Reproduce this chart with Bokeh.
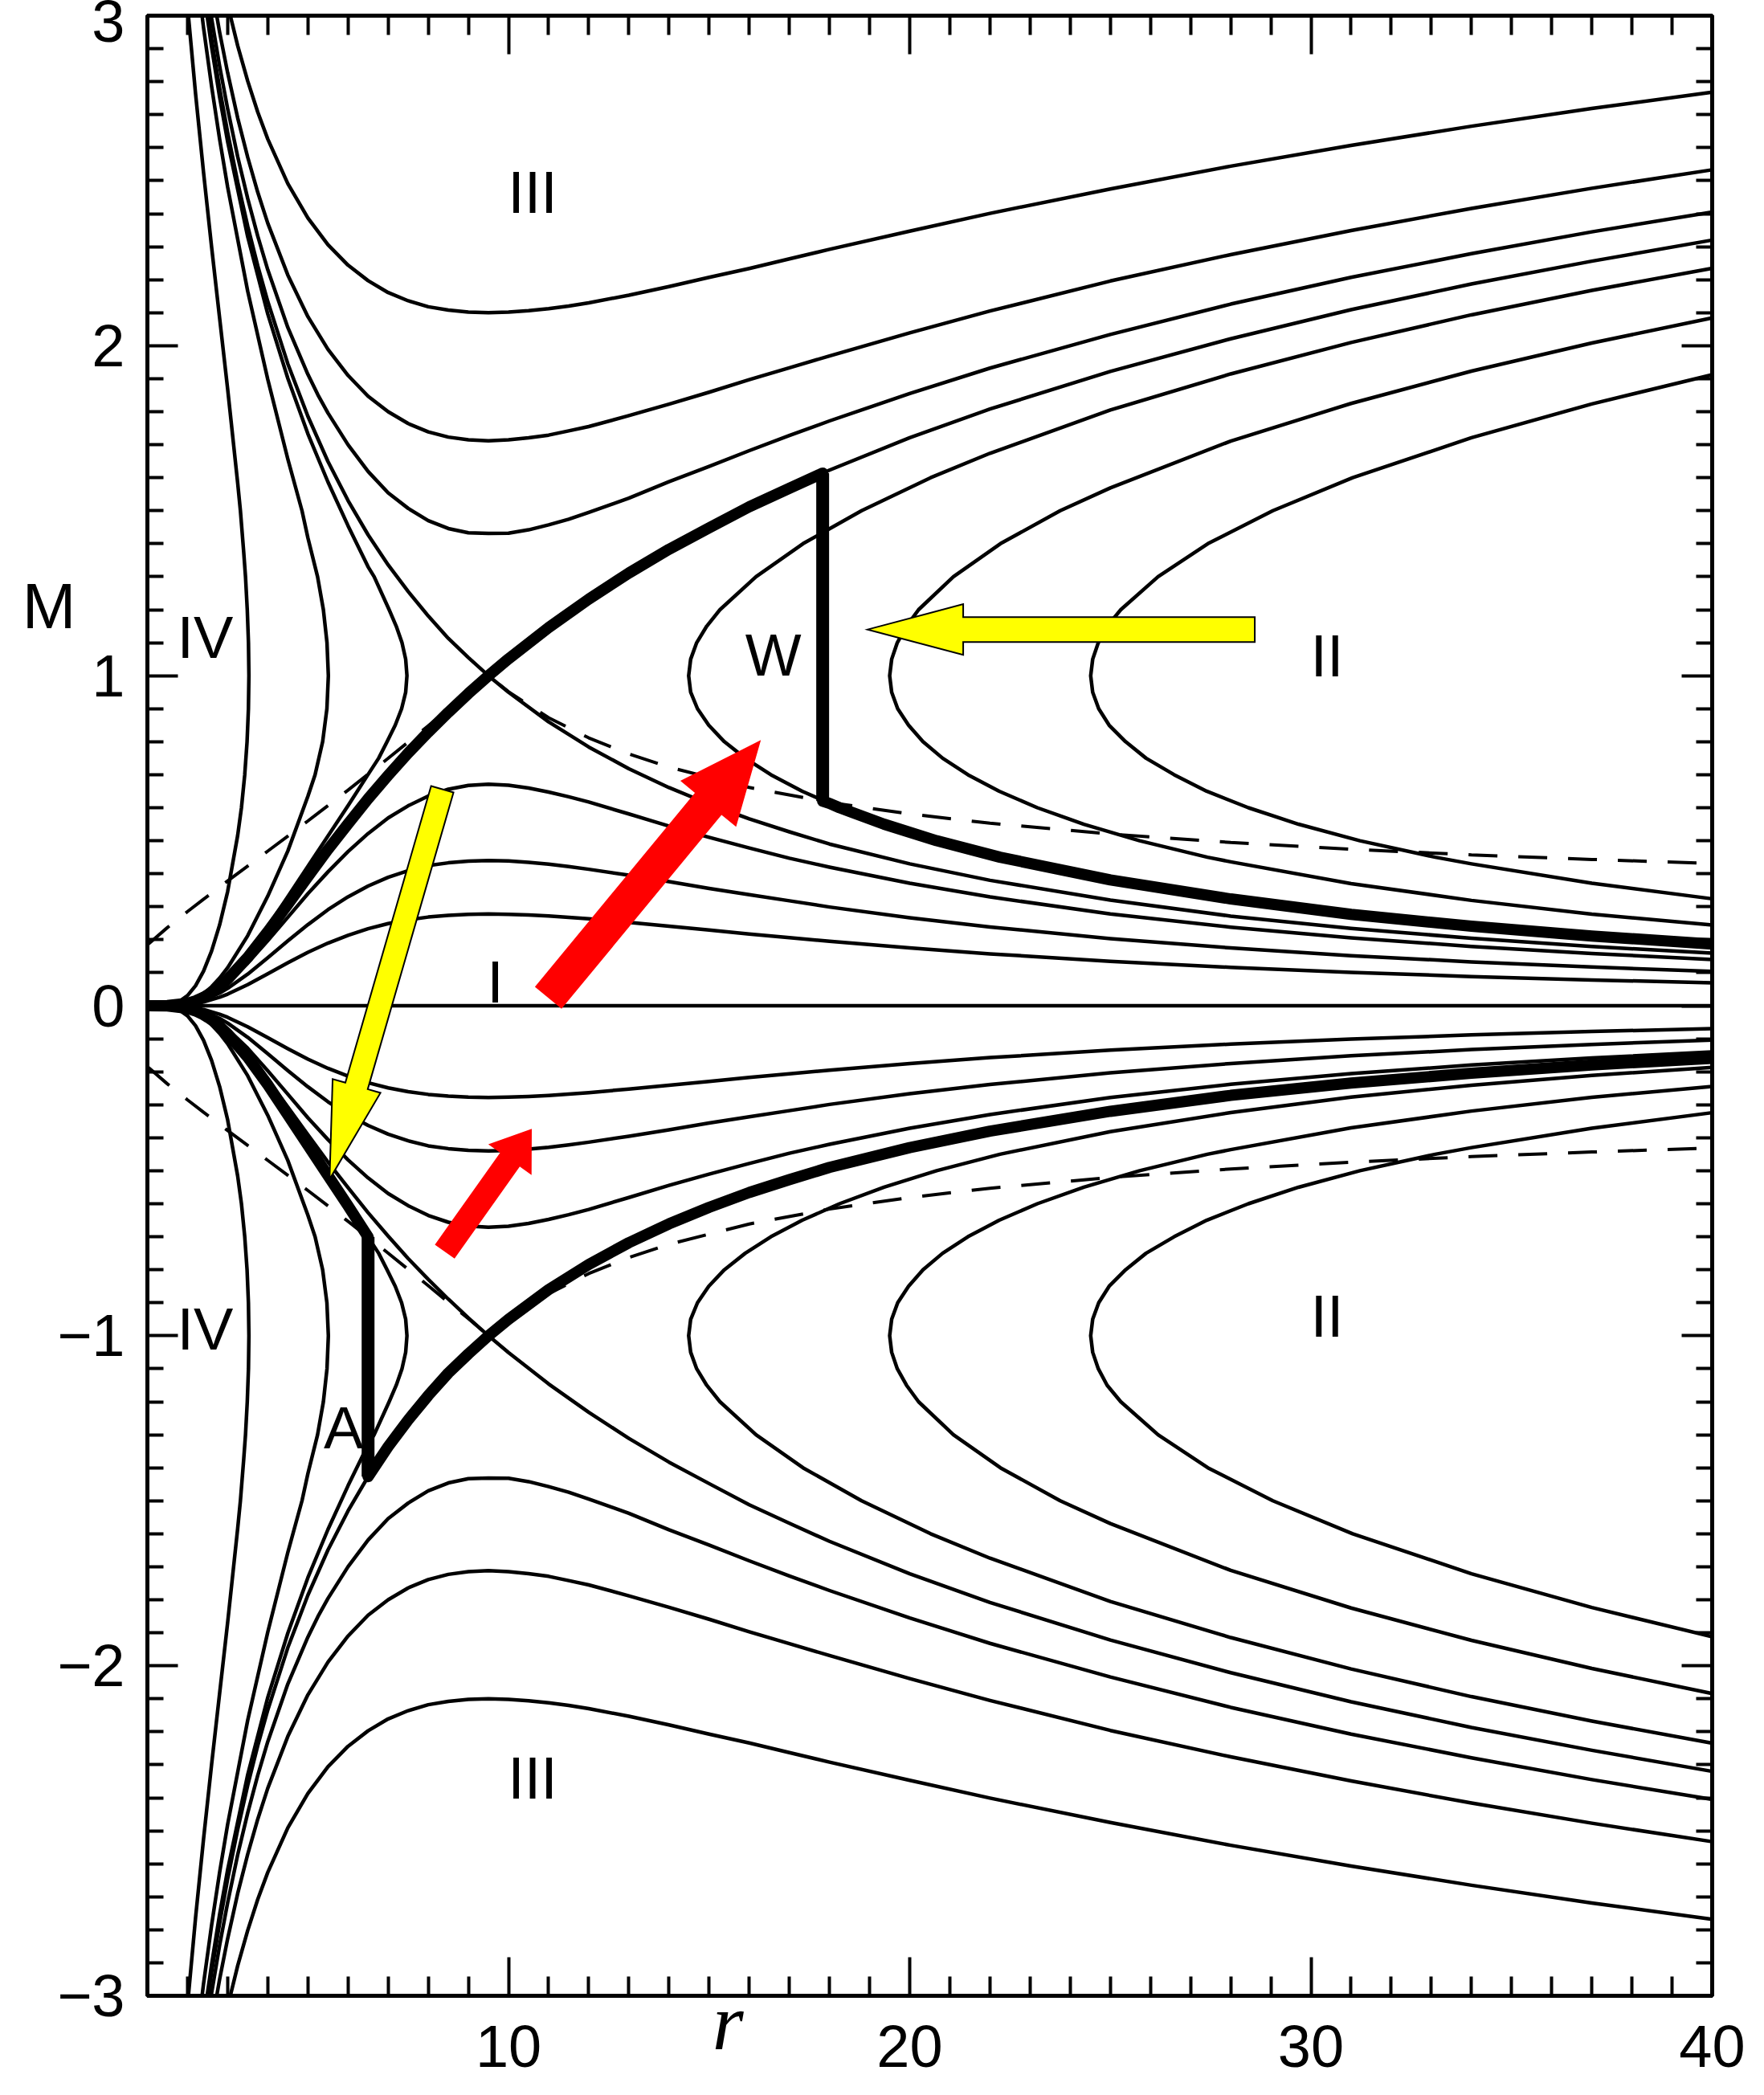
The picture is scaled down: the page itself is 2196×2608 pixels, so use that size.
from bokeh.plotting import figure
from bokeh.models import Range1d, FixedTicker, LinearAxis, Label, CustomJSTickFormatter
from bokeh.embed import file_html
from bokeh.resources import INLINE

# ---------------------------------------------------------------------------
# Isothermal wind / accretion solution topology: Mach number M against radius r.
# Each streamline is listed once with |M|; thin streamlines are drawn for
# outflow (M > 0) and inflow (M < 0).
# ---------------------------------------------------------------------------

# Type III (supersonic everywhere)
R_IIIa = [3.0, 3.25, 3.5, 3.75, 4.0, 4.5, 5.0, 5.5, 6.0, 6.5, 7.0, 7.5, 8.0, 8.5, 9.0, 9.5, 10, 10.5, 11, 11.5, 12, 13, 14, 15, 16, 17, 18, 20, 22, 25, 28, 31, 34, 37, 40]
M_IIIa = [3.033, 2.909, 2.802, 2.708, 2.626, 2.491, 2.387, 2.306, 2.244, 2.197, 2.161, 2.136, 2.118, 2.108, 2.102, 2.100, 2.102, 2.106, 2.112, 2.120, 2.130, 2.153, 2.179, 2.207, 2.234, 2.263, 2.292, 2.347, 2.401, 2.475, 2.544, 2.607, 2.665, 2.719, 2.768]
R_IIIb = [2.6, 2.8, 3.0, 3.25, 3.5, 3.75, 4.0, 4.5, 5.0, 5.5, 6.0, 6.5, 7.0, 7.5, 8.0, 8.5, 9.0, 9.5, 10, 10.5, 11, 11.5, 12, 13, 14, 15, 16, 17, 18, 20, 22, 25, 28, 31, 34, 37, 40]
M_IIIb = [3.089, 2.950, 2.827, 2.690, 2.571, 2.465, 2.371, 2.214, 2.088, 1.989, 1.910, 1.847, 1.800, 1.764, 1.739, 1.723, 1.715, 1.712, 1.715, 1.721, 1.729, 1.742, 1.755, 1.788, 1.823, 1.859, 1.897, 1.933, 1.969, 2.039, 2.105, 2.196, 2.276, 2.349, 2.416, 2.477, 2.533]
R_IIIc = [2.5, 2.6, 2.8, 3.0, 3.25, 3.5, 3.75, 4.0, 4.5, 5.0, 5.25, 5.5, 6.0, 6.5, 7.0, 7.5, 8.0, 8.5, 9.0, 9.5, 10, 10.5, 11, 11.5, 12, 13, 14, 15, 16, 17, 18, 20, 22, 25, 28, 31, 34, 37, 40]
M_IIIc = [3.071, 2.992, 2.847, 2.718, 2.573, 2.446, 2.332, 2.230, 2.055, 1.913, 1.851, 1.796, 1.700, 1.619, 1.554, 1.507, 1.470, 1.446, 1.433, 1.431, 1.432, 1.442, 1.457, 1.474, 1.495, 1.538, 1.588, 1.634, 1.682, 1.728, 1.772, 1.855, 1.932, 2.034, 2.126, 2.207, 2.279, 2.345, 2.405]

# Type I (subsonic everywhere)
R_I = [1.0, 1.5, 2.0, 2.4, 2.8, 3.0, 3.5, 4.0, 4.5, 5.0, 5.5, 6.0, 6.5, 7.0, 7.5, 8.0, 8.5, 9.0, 9.5, 10, 10.5, 11, 11.5, 12, 13, 14, 15, 16, 17, 18, 20, 22, 25, 28, 31, 34, 37, 40]
M_Ia = [0.0, 0.0005, 0.0067, 0.0226, 0.0516, 0.0707, 0.129, 0.197, 0.2681, 0.3395, 0.4056, 0.467, 0.5217, 0.569, 0.6059, 0.6355, 0.656, 0.6675, 0.6712, 0.668, 0.6596, 0.6473, 0.6333, 0.6172, 0.5811, 0.5443, 0.5101, 0.478, 0.447, 0.4198, 0.371, 0.3297, 0.2779, 0.238, 0.2058, 0.1796, 0.1581, 0.1402]
M_Ib = [0.0, 0.0004, 0.005, 0.0169, 0.0384, 0.0527, 0.0958, 0.1455, 0.1966, 0.2456, 0.291, 0.330, 0.3626, 0.3892, 0.4092, 0.4245, 0.433, 0.4383, 0.4399, 0.4385, 0.4347, 0.4292, 0.4218, 0.4135, 0.3954, 0.3762, 0.3556, 0.3366, 0.318, 0.2991, 0.2667, 0.2387, 0.2035, 0.1751, 0.1518, 0.1329, 0.1172, 0.1041]
M_Ic = [0.0, 0.0003, 0.0033, 0.0113, 0.0257, 0.0352, 0.064, 0.0969, 0.1302, 0.1618, 0.1897, 0.2135, 0.2332, 0.2488, 0.2603, 0.2687, 0.2741, 0.277, 0.2779, 0.2771, 0.275, 0.2719, 0.2678, 0.2633, 0.2526, 0.241, 0.2292, 0.2175, 0.2062, 0.1951, 0.1751, 0.1572, 0.1346, 0.1162, 0.1011, 0.0885, 0.0781, 0.0695]

# Critical (transonic) solutions crossing at the sonic point
R_SUP = [2.4, 2.6, 2.8, 3.0, 3.25, 3.5, 3.75, 4.0, 4.5, 5.0, 5.5, 6.0, 6.5, 7.0, 7.5, 8.0, 8.5, 9.0, 9.5, 10, 11, 12, 13, 14, 15, 16, 17, 18, 20, 22, 25, 28, 31, 34, 37, 40]
M_SUP = [3.097, 2.929, 2.780, 2.646, 2.496, 2.362, 2.242, 2.134, 1.945, 1.786, 1.649, 1.531, 1.427, 1.336, 1.255, 1.181, 1.113, 1.055, 1.000, 1.051, 1.146, 1.232, 1.311, 1.383, 1.448, 1.512, 1.568, 1.623, 1.721, 1.808, 1.922, 2.021, 2.109, 2.187, 2.256, 2.320]
R_SUB = [1.0, 1.5, 2.0, 2.2, 2.4, 2.6, 2.8, 3.0, 3.5, 4.0, 4.5, 5.0, 5.5, 6.0, 6.5, 7.0, 7.5, 8.0, 8.5, 9.0, 9.5, 10, 11, 12, 13, 14, 15, 16, 17, 18, 20, 22, 25, 28, 31, 34, 37, 40]
M_SUB = [0.0, 0.0006, 0.0076, 0.0148, 0.0256, 0.0401, 0.0584, 0.0801, 0.1464, 0.2243, 0.307, 0.391, 0.4735, 0.551, 0.627, 0.698, 0.766, 0.829, 0.889, 0.946, 1.0, 0.950, 0.860, 0.784, 0.718, 0.661, 0.611, 0.566, 0.527, 0.490, 0.430, 0.380, 0.320, 0.2716, 0.2344, 0.2043, 0.1796, 0.1592]

# Type II (double-valued, outer region)
R_II1 = [40, 37, 34, 31, 28, 25, 22, 20.52, 18.8, 17.34, 16.17, 15.27, 14.94, 14.69, 14.54, 14.49, 14.54, 14.71, 14.99, 15.38, 15.9, 16.54, 17.32, 18.25, 19.36, 20.67, 22.25, 25, 28, 31, 34, 37, 40]
M_II1 = [2.2346, 2.1676, 2.0935, 2.0097, 1.9145, 1.805, 1.674, 1.6, 1.5, 1.4, 1.3, 1.2, 1.15, 1.1, 1.05, 1.0, 0.95, 0.9, 0.85, 0.8, 0.75, 0.7, 0.65, 0.6, 0.55, 0.5, 0.45, 0.3814, 0.3236, 0.2769, 0.2408, 0.2112, 0.187]
R_II2 = [40, 37, 34, 31, 28, 25, 23.75, 22.26, 21.09, 20.22, 19.92, 19.69, 19.55, 19.50, 19.55, 19.70, 19.97, 20.33, 20.82, 21.45, 22.23, 23.18, 24.34, 25.73, 27.42, 28, 31, 34, 37, 40]
M_II2 = [2.084, 2.008, 1.923, 1.825, 1.711, 1.569, 1.5, 1.4, 1.3, 1.2, 1.15, 1.1, 1.05, 1.0, 0.95, 0.9, 0.85, 0.8, 0.75, 0.7, 0.65, 0.6, 0.55, 0.5, 0.45, 0.436, 0.370, 0.3192, 0.2776, 0.2448]
R_II3 = [40, 37, 34, 31.04, 29.05, 27.43, 26.19, 25.26, 24.92, 24.70, 24.56, 24.51, 24.56, 24.71, 24.97, 25.38, 25.89, 26.59, 27.40, 28.44, 29.69, 31.22, 33.1, 34, 37, 40]
M_II3 = [1.912, 1.8235, 1.721, 1.6, 1.5, 1.4, 1.3, 1.2, 1.15, 1.1, 1.05, 1.0, 0.95, 0.9, 0.85, 0.8, 0.75, 0.7, 0.65, 0.6, 0.55, 0.5, 0.45, 0.430, 0.371, 0.324]

# Type IV (double-valued, inner region)
R_IV1 = [1.95, 2.0, 2.2, 2.4, 2.6, 2.8, 3.0, 3.25, 3.318, 3.4, 3.445, 3.489, 3.519, 3.53, 3.518, 3.484, 3.426, 3.344, 3.25, 3.0, 2.8, 2.6, 2.4, 2.2, 2.0, 1.8, 1.5, 1.0]
M_IV1 = [3.099, 3.0285, 2.764, 2.524, 2.299, 2.0835, 1.869, 1.584, 1.5, 1.375, 1.3, 1.2, 1.1, 1.0, 0.9, 0.8, 0.7, 0.6, 0.516, 0.3457, 0.2448, 0.1658, 0.105, 0.0606, 0.0308, 0.0133, 0.0023, 0.0]
R_IV2 = [2.2, 2.4, 2.6, 2.8, 3.0, 3.5, 4.0, 4.5, 4.853, 5.0, 5.241, 5.386, 5.476, 5.51, 5.474, 5.368, 5.179, 5.0, 4.5, 4.0, 3.5, 3.0, 2.8, 2.6, 2.4, 2.2, 2.0, 1.5, 1.0]
M_IV2 = [3.163, 2.963, 2.786, 2.626, 2.4806, 2.165, 1.898, 1.6565, 1.5, 1.418, 1.3, 1.2, 1.1, 1.0, 0.9, 0.8, 0.7, 0.6346, 0.4689, 0.332, 0.2122, 0.1151, 0.0838, 0.0575, 0.0367, 0.0213, 0.0108, 0.0008, 0.0]
R_IV3 = [2.4, 2.6, 2.8, 3.0, 3.5, 4.0, 4.5, 5.0, 5.5, 6.0, 6.5, 6.651, 7.025, 7.202, 7.345, 7.437, 7.469, 7.437, 7.336, 7.177, 6.974, 6.764, 6.5, 6.0, 5.5, 5.0, 4.5, 4.0, 3.5, 3.0, 2.8, 2.6, 2.4, 2.2, 2.0, 1.5, 1.0]
M_IV3 = [3.074, 2.905, 2.753, 2.618, 2.330, 2.096, 1.901, 1.733, 1.587, 1.4546, 1.330, 1.3, 1.2, 1.15, 1.1, 1.05, 1.0, 0.95, 0.9, 0.85, 0.8, 0.75, 0.7007, 0.6059, 0.5143, 0.4224, 0.3305, 0.2397, 0.1561, 0.0853, 0.0622, 0.0427, 0.0273, 0.0158, 0.0081, 0.0006, 0.0]

# Static (M = 0) line
R_ZERO = [1.0, 40.0]
M_ZERO = [0.0, 0.0]

# Post-shock Mach number 1/M of the supersonic critical branch
R_SHOCK_LOCUS = [1.0, 1.5, 2.0, 2.4, 3.0, 3.5, 4.0, 4.5, 5.0, 5.5, 6.0, 7.0, 8.0, 8.5, 9.0, 9.5, 10, 11, 12, 13, 14, 16, 18, 20, 22, 25, 28, 31, 34, 37, 40]
M_SHOCK_LOCUS = [0.1845, 0.237, 0.2854, 0.3229, 0.378, 0.4234, 0.4686, 0.5141, 0.5599, 0.6064, 0.6532, 0.7496, 0.8482, 0.8985, 0.948, 1.0, 0.9513, 0.8726, 0.8117, 0.7628, 0.7229, 0.6614, 0.6161, 0.5811, 0.5531, 0.5203, 0.4948, 0.4742, 0.4572, 0.4433, 0.431]

# Wind with a shock (W): subsonic -> supersonic -> shock -> subsonic
R_WIND_PRE = [1.0, 1.5, 2.0, 2.2, 2.4, 2.6, 2.8, 3.0, 3.5, 4.0, 4.5, 5.0, 5.5, 6.0, 6.5, 7.0, 7.5, 8.0, 8.5, 9.0, 9.5, 10, 11, 12, 13, 14, 15, 16, 17, 17.83]
M_WIND_PRE = [0.0, 0.0006, 0.0076, 0.0148, 0.0256, 0.0401, 0.0584, 0.0801, 0.1464, 0.2243, 0.307, 0.391, 0.4735, 0.551, 0.627, 0.698, 0.766, 0.829, 0.889, 0.946, 1.0, 1.051, 1.146, 1.232, 1.311, 1.383, 1.448, 1.512, 1.568, 1.614]
R_WIND_SHOCK = [17.83, 17.83]
M_WIND_SHOCK = [1.614, 0.62]
R_WIND_POST = [17.83, 18, 18.25, 19.36, 20.67, 22.25, 25, 28, 31, 34, 37, 40]
M_WIND_POST = [0.62, 0.6131, 0.6, 0.55, 0.5, 0.45, 0.3814, 0.3236, 0.2769, 0.2408, 0.2112, 0.187]

# Accretion with a shock (A): subsonic inflow -> supersonic -> shock -> subsonic
R_ACC_PRE = [40, 37, 34, 31, 28, 25, 22, 20, 18, 17, 16, 15, 14, 13, 12, 11, 10, 9.5, 9.0, 8.5, 8.0, 7.5, 7.0, 6.5]
M_ACC_PRE = [-0.1592, -0.1796, -0.2043, -0.2344, -0.2716, -0.320, -0.380, -0.430, -0.490, -0.527, -0.566, -0.611, -0.661, -0.718, -0.784, -0.860, -0.950, -1.0, -1.055, -1.113, -1.181, -1.255, -1.336, -1.427]
R_ACC_SHOCK = [6.5, 6.5]
M_ACC_SHOCK = [-1.427, -0.7007]
R_ACC_POST = [6.5, 6.0, 5.5, 5.0, 4.5, 4.0, 3.5, 3.0, 2.8, 2.6, 2.4, 2.2, 2.0, 1.5, 1.0]
M_ACC_POST = [-0.7007, -0.6059, -0.5143, -0.4224, -0.3305, -0.2397, -0.1561, -0.0853, -0.0622, -0.0427, -0.0273, -0.0158, -0.0081, -0.0006, 0.0]

# Region labels
LABEL_TEXT = ["III", "III", "IV", "IV", "W", "II", "II", "I", "A"]
LABEL_R = [10.6, 10.6, 2.44, 2.44, 16.6, 30.4, 30.4, 9.67, 5.89]
LABEL_M = [2.465, -2.34, 1.115, -0.98, 1.063, 1.06, -0.94, 0.072, -1.28]

# Arrows: tail -> tip, colour, body width / head width / head length (px)
ARROW_TAIL_R = [28.6, 8.35, 10.99, 8.41]
ARROW_TAIL_M = [1.14, 0.656, 0.024, -0.745]
ARROW_TIP_R = [18.95, 5.54, 16.29, 10.58]
ARROW_TIP_M = [1.14, -0.526, 0.805, -0.373]
ARROW_FILL = ["#ffff00", "#ffff00", "#ff0000", "#ff0000"]
ARROW_EDGE = ["black", "black", None, None]
ARROW_BODY = [31, 29, 43, 30]
ARROW_HEAD_W = [63, 62, 90, 66]
ARROW_HEAD_L = [119, 121, 103, 47]

X_MAJOR = [10, 20, 30, 40]
X_MINOR = [v for v in range(2, 40) if v % 10]
Y_MAJOR = [-3, -2, -1, 0, 1, 2, 3]
Y_MINOR = [round(k * 0.1, 1) for k in range(-29, 30) if k % 10]

# axis titles sit at these positions along their axes
M_TITLE_AT = 1.21
R_TITLE_AT = 15.47

FONT = "Liberation Sans"
W, H = 2196, 2608
BL, BR, BT, BB = 183, 65, 19, 124
FRAME_W, FRAME_H = W - BL - BR, H - BT - BB
X0, X1, Y0, Y1 = 1.0, 40.0, -3.0, 3.0

p = figure(width=W, height=H, x_range=Range1d(X0, X1), y_range=Range1d(Y0, Y1),
           x_axis_type=None, y_axis_type=None,
           output_backend="svg", toolbar_location=None,
           min_border_left=BL, min_border_right=BR, min_border_top=BT, min_border_bottom=BB)
p.background_fill_color = "white"
p.border_fill_color = "white"
p.outline_line_color = "black"
p.outline_line_width = 5


def make_axis(ticker, major_in, minor_in, labelled, standoff=0):
    ax = LinearAxis(ticker=ticker)
    ax.axis_line_width = 5
    ax.axis_line_color = "black"
    ax.major_tick_in = major_in
    ax.major_tick_out = 0
    ax.minor_tick_in = minor_in
    ax.minor_tick_out = 0
    ax.major_tick_line_width = 4
    ax.minor_tick_line_width = 4
    ax.major_tick_line_color = "black"
    ax.minor_tick_line_color = "black"
    if labelled:
        ax.major_label_text_font = FONT
        ax.major_label_text_font_size = "74px"
        ax.major_label_text_color = "black"
        ax.major_label_standoff = standoff
    else:
        ax.formatter = CustomJSTickFormatter(code="return '';")
        ax.major_label_text_color = None
    return ax


def title_axis(at, text, font, size, style, standoff):
    # an axis with a single, unmarked tick whose label is the axis title
    ax = LinearAxis(ticker=FixedTicker(ticks=[at], minor_ticks=[]),
                    formatter=CustomJSTickFormatter(code="return %r;" % text))
    ax.axis_line_color = None
    ax.major_tick_line_color = None
    ax.minor_tick_line_color = None
    ax.major_tick_in = 0
    ax.major_tick_out = 0
    ax.minor_tick_in = 0
    ax.minor_tick_out = 0
    ax.major_label_text_font = font
    ax.major_label_text_font_size = size
    ax.major_label_text_font_style = style
    ax.major_label_text_color = "black"
    ax.major_label_standoff = standoff
    return ax


bottom = make_axis(FixedTicker(ticks=X_MAJOR, minor_ticks=X_MINOR), 48, 24, True, 37)
top = make_axis(FixedTicker(ticks=X_MAJOR, minor_ticks=X_MINOR), 48, 24, False)
left = make_axis(FixedTicker(ticks=Y_MAJOR, minor_ticks=Y_MINOR), 38, 20, True, 28)
left.formatter = CustomJSTickFormatter(code="return (tick < 0 ? '\u2212' : '') + Math.abs(tick);")
right = make_axis(FixedTicker(ticks=Y_MAJOR, minor_ticks=Y_MINOR), 38, 20, False)
p.add_layout(bottom, "below")
p.add_layout(left, "left")
p.add_layout(top, "above")
p.add_layout(right, "right")
p.add_layout(title_axis(R_TITLE_AT, "r", "Liberation Serif", "100px", "italic", -114), "below")
p.add_layout(title_axis(M_TITLE_AT, "M", FONT, "80px", "normal", -26), "left")

THIN = 4.5
thin_curves = [(R_IIIa, M_IIIa), (R_IIIb, M_IIIb), (R_IIIc, M_IIIc),
               (R_I, M_Ia), (R_I, M_Ib), (R_I, M_Ic),
               (R_SUP, M_SUP), (R_SUB, M_SUB),
               (R_II1, M_II1), (R_II2, M_II2), (R_II3, M_II3),
               (R_IV1, M_IV1), (R_IV2, M_IV2), (R_IV3, M_IV3)]
for rr, mm in thin_curves:
    p.line(rr, mm, line_color="black", line_width=THIN, line_join="round")
    p.line(rr, [-m for m in mm], line_color="black", line_width=THIN, line_join="round")
p.line(R_ZERO, M_ZERO, line_color="black", line_width=THIN)

# shock loci (dashed)
p.line(R_SHOCK_LOCUS, M_SHOCK_LOCUS, line_color="black", line_width=4, line_dash="36 26")
p.line(R_SHOCK_LOCUS, [-m for m in M_SHOCK_LOCUS], line_color="black", line_width=4, line_dash="36 26")

# shocked wind and shocked accretion flow (thick)
THICK = 14
for rr, mm in [(R_WIND_PRE, M_WIND_PRE), (R_WIND_POST, M_WIND_POST),
               (R_ACC_PRE, M_ACC_PRE), (R_ACC_POST, M_ACC_POST)]:
    p.line(rr, mm, line_color="black", line_width=THICK, line_join="round", line_cap="round")
for rr, mm in [(R_WIND_SHOCK, M_WIND_SHOCK), (R_ACC_SHOCK, M_ACC_SHOCK)]:
    p.line(rr, mm, line_color="black", line_width=16, line_cap="butt")

# arrows, built in pixel space so the widths are uniform on screen
PX_R = FRAME_W / (X1 - X0)
PX_M = FRAME_H / (Y1 - Y0)


def arrow_outline(r0, m0, r1, m1, body, head_w, head_l):
    x0, y0 = r0 * PX_R, m0 * PX_M
    x1, y1 = r1 * PX_R, m1 * PX_M
    dx, dy = x1 - x0, y1 - y0
    length = (dx * dx + dy * dy) ** 0.5
    ux, uy = dx / length, dy / length
    nx, ny = -uy, ux
    bx, by = x1 - ux * head_l, y1 - uy * head_l
    pts = [(x0 + nx * body / 2, y0 + ny * body / 2),
           (bx + nx * body / 2, by + ny * body / 2),
           (bx + nx * head_w / 2, by + ny * head_w / 2),
           (x1, y1),
           (bx - nx * head_w / 2, by - ny * head_w / 2),
           (bx - nx * body / 2, by - ny * body / 2),
           (x0 - nx * body / 2, y0 - ny * body / 2)]
    return [q[0] / PX_R for q in pts], [q[1] / PX_M for q in pts]


for i in range(len(ARROW_TAIL_R)):
    xs, ys = arrow_outline(ARROW_TAIL_R[i], ARROW_TAIL_M[i], ARROW_TIP_R[i], ARROW_TIP_M[i],
                           ARROW_BODY[i], ARROW_HEAD_W[i], ARROW_HEAD_L[i])
    if ARROW_EDGE[i]:
        p.patch(xs, ys, fill_color=ARROW_FILL[i], line_color=ARROW_EDGE[i], line_width=2, line_join="miter")
    else:
        p.patch(xs, ys, fill_color=ARROW_FILL[i], line_color=None)

for t, rr, mm in zip(LABEL_TEXT, LABEL_R, LABEL_M):
    p.add_layout(Label(x=rr, y=mm, text=t, text_font=FONT, text_font_size="74px",
                       text_color="black", text_align="center", text_baseline="middle"))

open("out.html", "w").write(file_html(p, INLINE))
